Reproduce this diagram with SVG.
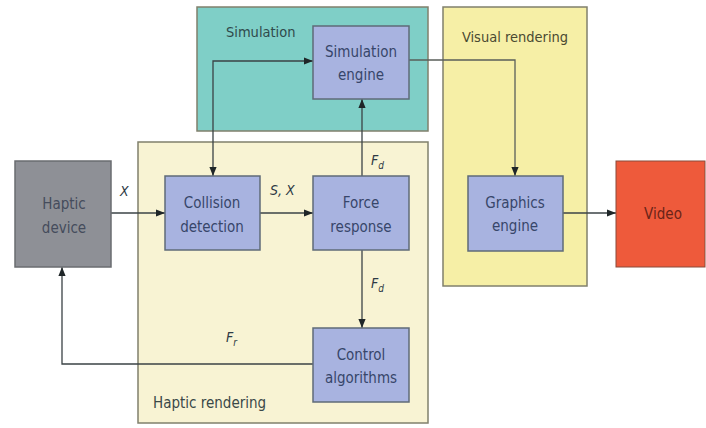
<svg xmlns="http://www.w3.org/2000/svg" width="706" height="428" viewBox="0 0 706 428">
<defs>
<style>
.grp{stroke:#80806c;stroke-width:1.5}
.node{fill:#a8b3e0;stroke:#5f6b78;stroke-width:1.5}
.t{font-family:"DejaVu Sans Condensed","DejaVu Sans",sans-serif;font-stretch:condensed;font-size:15px;fill:#37466a;text-anchor:middle}
.gl{font-family:"DejaVu Sans Condensed","DejaVu Sans",sans-serif;font-stretch:condensed;font-size:14.5px;fill:#3a4848}
.lbl{font-family:"DejaVu Sans Condensed","DejaVu Sans",sans-serif;font-stretch:condensed;font-size:14px;font-style:italic;fill:#2e3a45}
.c{fill:none;stroke:#3b4346;stroke-width:1.3}
</style>
<marker id="ah" viewBox="0 0 10 10" refX="10" refY="5" markerWidth="9" markerHeight="9" orient="auto-start-reverse" markerUnits="userSpaceOnUse">
<path d="M0,1 L10,5 L0,9 z" fill="#1f2628"/>
</marker>
</defs>
<rect width="706" height="428" fill="#ffffff"/>
<g id="simulation-group">
<rect class="grp" x="197" y="7" width="231" height="124" fill="#7fcfc7"/>
<text class="gl" x="226" y="37" style="fill:#2f4a4c">Simulation</text>
</g>
<g id="visual-rendering-group">
<rect class="grp" x="443" y="7" width="144" height="279" fill="#f6efa6"/>
<text class="gl" x="515" y="42" text-anchor="middle" style="fill:#4a4a32">Visual rendering</text>
</g>
<g id="haptic-rendering-group">
<rect class="grp" x="138" y="142" width="290" height="281" fill="#f8f3d3"/>
<text class="gl" x="153" y="408" style="font-size:15px">Haptic rendering</text>
</g>
<g id="connectors">
<path class="c" d="M213,176 V61 H313" marker-start="url(#ah)" marker-end="url(#ah)"/>
<path class="c" d="M409,60 H515 V176" marker-end="url(#ah)" style="stroke:#5a5f5a"/>
<path class="c" d="M563,213 H616" marker-end="url(#ah)"/>
<path class="c" d="M111,213 H165" marker-end="url(#ah)"/>
<path class="c" d="M260,213 H313" marker-end="url(#ah)"/>
<path class="c" d="M362,176 V99" marker-end="url(#ah)"/>
<path class="c" d="M362,250 V328" marker-end="url(#ah)"/>
<path class="c" d="M313,364 H62 V267" marker-end="url(#ah)"/>
<text class="lbl" x="120" y="196">X</text>
<text class="lbl" x="270" y="195">S, X</text>
<text class="lbl" x="371" y="165">F<tspan font-size="10" dy="4">d</tspan></text>
<text class="lbl" x="371" y="288">F<tspan font-size="10" dy="4">d</tspan></text>
<text class="lbl" x="226" y="342">F<tspan font-size="10" dy="4">r</tspan></text>
</g>
<g id="simulation-engine">
<rect class="node" x="313" y="26" width="96" height="73"/>
<text class="t" x="361" y="57">Simulation</text>
<text class="t" x="361" y="80">engine</text>
</g>
<g id="graphics-engine">
<rect class="node" x="468" y="176" width="95" height="75"/>
<text class="t" x="515" y="208">Graphics</text>
<text class="t" x="515" y="231">engine</text>
</g>
<g id="video">
<rect x="616" y="161" width="89" height="106" fill="#ee5a3b" stroke="#8a4a3a" stroke-width="1"/>
<text class="t" x="663" y="219" style="fill:#6a2418">Video</text>
</g>
<g id="haptic-device">
<rect x="15" y="161" width="96" height="106" fill="#8e9096" stroke="#6a6c70" stroke-width="1.5"/>
<text class="t" x="64" y="209" style="fill:#454c5c">Haptic</text>
<text class="t" x="64" y="233" style="fill:#454c5c">device</text>
</g>
<g id="collision-detection">
<rect class="node" x="165" y="176" width="95" height="74"/>
<text class="t" x="212" y="208">Collision</text>
<text class="t" x="212" y="232">detection</text>
</g>
<g id="force-response">
<rect class="node" x="313" y="176" width="96" height="74"/>
<text class="t" x="361" y="208">Force</text>
<text class="t" x="361" y="232">response</text>
</g>
<g id="control-algorithms">
<rect class="node" x="313" y="328" width="96" height="74"/>
<text class="t" x="361" y="360">Control</text>
<text class="t" x="361" y="383">algorithms</text>
</g>
</svg>
